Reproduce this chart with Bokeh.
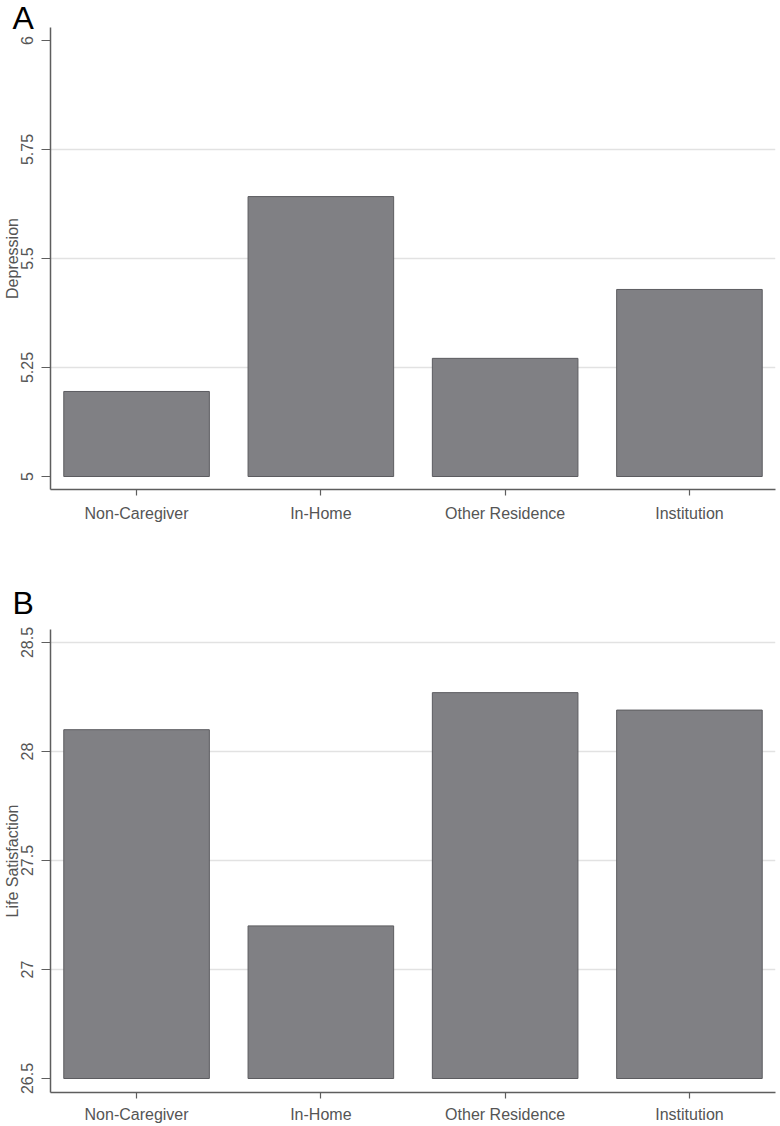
from bokeh.plotting import figure
from bokeh.models import FactorRange, Range1d, FixedTicker, Title
from bokeh.layouts import column
from bokeh.embed import file_html
from bokeh.resources import INLINE

categories = ["Non-Caregiver", "In-Home", "Other Residence", "Institution"]

depression = [5.195, 5.642, 5.271, 5.429]
depression_base = 5
depression_ticks = [5, 5.25, 5.5, 5.75, 6]
depression_tick_labels = ["5", "5.25", "5.5", "5.75", "6"]
depression_grid = [5.25, 5.5, 5.75]

life_satisfaction = [28.10, 27.20, 28.27, 28.19]
life_base = 26.5
life_ticks = [26.5, 27, 27.5, 28, 28.5]
life_tick_labels = ["26.5", "27", "27.5", "28", "28.5"]
life_grid = [27, 27.5, 28, 28.5]

FONT = "Liberation Sans"
TEXT_COLOR = "#555555"
AXIS_COLOR = "#5e5e5e"


def make_panel(letter, ylabel, values, base, ticks, tick_labels, grid, y_start, y_end,
               frame_h, top_border, bottom_border, title_standoff, x_standoff):
    p = figure(
        x_range=FactorRange(*categories, range_padding=-0.033, range_padding_units="absolute"),
        y_range=Range1d(y_start, y_end),
        frame_width=725, frame_height=frame_h,
        min_border_left=50, min_border_right=5,
        min_border_top=top_border, min_border_bottom=bottom_border,
        output_backend="svg", toolbar_location=None,
    )
    p.outline_line_color = None
    p.background_fill_color = "white"
    p.border_fill_color = "white"

    p.title = Title(text=letter, align="left", offset=-38, standoff=title_standoff,
                    text_font=FONT, text_font_size="32px", text_font_style="normal",
                    text_color="black")

    p.vbar(x=categories, top=values, bottom=base, width=0.79,
           fill_color="#808084", line_color="#5c5c60", line_width=1)

    p.xgrid.visible = False
    p.ygrid.ticker = FixedTicker(ticks=grid)
    p.ygrid.grid_line_color = "#e2e2e2"
    p.ygrid.grid_line_width = 1.5

    ya = p.yaxis[0]
    ya.ticker = FixedTicker(ticks=ticks)
    ya.major_label_overrides = {t: l for t, l in zip(ticks, tick_labels)}
    ya.major_label_orientation = "vertical"
    ya.major_tick_in = 0
    ya.major_tick_out = 9
    ya.minor_tick_line_color = None
    ya.major_label_standoff = 9
    ya.axis_label = ylabel
    ya.axis_label_standoff = -3
    ya.axis_label_text_font = FONT
    ya.axis_label_text_font_size = "16px"
    ya.axis_label_text_font_style = "normal"
    ya.axis_label_text_color = TEXT_COLOR
    ya.major_label_text_font = FONT
    ya.major_label_text_font_size = "16px"
    ya.major_label_text_color = TEXT_COLOR
    ya.axis_line_color = AXIS_COLOR
    ya.axis_line_width = 1.5
    ya.major_tick_line_color = AXIS_COLOR
    ya.major_tick_line_width = 1.2

    xa = p.xaxis[0]
    xa.major_tick_in = 0
    xa.major_tick_out = 6
    xa.major_label_standoff = x_standoff
    xa.major_label_text_font = FONT
    xa.major_label_text_font_size = "16px"
    xa.major_label_text_color = TEXT_COLOR
    xa.axis_line_color = AXIS_COLOR
    xa.axis_line_width = 1.5
    xa.major_tick_line_color = AXIS_COLOR
    xa.major_tick_line_width = 1.2
    return p


pa = make_panel("A", "Depression", depression, depression_base, depression_ticks,
                depression_tick_labels, depression_grid,
                5 - 13 / 436, 6 + 13 / 436, 462, 27, 70, -17, 9)
pb = make_panel("B", "Life Satisfaction", life_satisfaction, life_base, life_ticks,
                life_tick_labels, life_grid,
                26.5 - 14 / 218, 28.5 + 13 / 218, 463, 70, 30, 17, 7)

layout = column(pa, pb, spacing=0)
open("out.html", "w").write(file_html(layout, INLINE))
